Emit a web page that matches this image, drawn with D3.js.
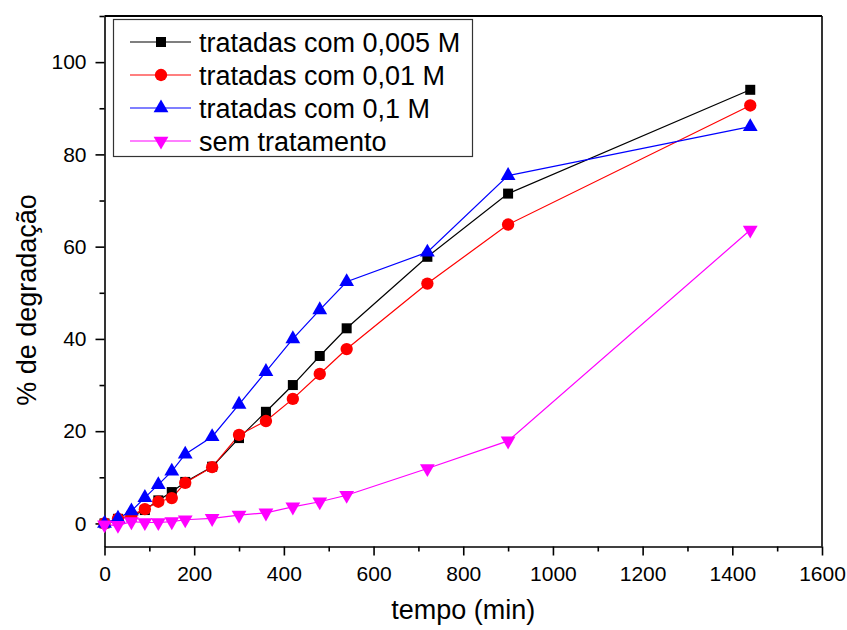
<!DOCTYPE html>
<html>
<head>
<meta charset="utf-8">
<script src="https://cdn.jsdelivr.net/npm/d3@7"></script>
<style>
  body { margin: 0; background: #fff; }
  svg { font-family: Arial, "Liberation Sans", sans-serif; }
</style>
</head>
<body>
<div id="chart"></div>
<script>
// degradation over time, one series per treatment
const tempo = [0, 30, 60, 90, 120, 150, 180, 240, 300, 360, 420, 480, 540, 720, 900, 1440];
const trat0005 = [0, 1.0, 1.5, 2.9, 5.0, 6.8, 9.0, 12.3, 18.5, 24.2, 30.0, 36.3, 42.3, 57.8, 71.5, 94.0];
const trat001 = [0, 1.0, 1.8, 3.1, 4.7, 5.5, 8.8, 12.2, 19.2, 22.2, 27.0, 32.4, 37.8, 52.0, 64.8, 90.6];
const trat01 = [0, 1.1, 2.7, 5.6, 8.4, 11.3, 15.0, 18.8, 25.8, 32.9, 40.0, 46.3, 52.4, 58.8, 75.4, 86.0];
const semTrat = [-0.3, -0.4, 0.4, 0.2, 0.2, 0.4, 0.8, 1.1, 1.8, 2.3, 3.6, 4.7, 6.1, 11.9, 17.9, 63.6];
const seriesNames = ["tratadas com 0,005 M", "tratadas com 0,01 M", "tratadas com 0,1 M", "sem tratamento"];
const xTicks = [0, 200, 400, 600, 800, 1000, 1200, 1400, 1600];
const yTicks = [0, 20, 40, 60, 80, 100];

const width = 847, height = 630;
const margin = {left: 104.5, right: 25, top: 16, bottom: 83.5};

const svg = d3.select("#chart").append("svg")
  .attr("width", width)
  .attr("height", height);

const x = d3.scaleLinear().domain([0, 1600]).range([margin.left, width - margin.right]);
const y = d3.scaleLinear().domain([-5, 110]).range([height - margin.bottom, margin.top]);

const series = [
  {name: seriesNames[0], values: trat0005, color: "#000000", symbol: d3.symbolSquare, size: 100, flip: false},
  {name: seriesNames[1], values: trat001, color: "#ff0000", symbol: d3.symbolCircle, size: 120, flip: false},
  {name: seriesNames[2], values: trat01, color: "#0000ff", symbol: d3.symbolTriangle, size: 95, flip: false},
  {name: seriesNames[3], values: semTrat, color: "#ff00ff", symbol: d3.symbolTriangle, size: 95, flip: true}
];

// axes: major ticks labelled, minor ticks in between
const xMinor = d3.range(100, 1600, 200);
const yMinor = d3.range(-10, 111, 20).filter(v => v > -5);
const fmt = d3.format("d");

svg.append("g")
  .attr("transform", `translate(0,${y(-5)})`)
  .call(d3.axisBottom(x).tickValues(xMinor).tickSize(5).tickFormat(""))
  .call(g => g.select(".domain").remove());
svg.append("g")
  .attr("transform", `translate(0,${y(-5)})`)
  .call(d3.axisBottom(x).tickValues(xTicks).tickFormat(fmt).tickSize(9).tickSizeOuter(0).tickPadding(11))
  .call(g => g.selectAll("text").attr("font-size", 21).attr("fill", "#000"))
  .call(g => g.selectAll("line, path").attr("stroke-width", 1.6));

svg.append("g")
  .attr("transform", `translate(${x(0)},0)`)
  .call(d3.axisLeft(y).tickValues(yMinor).tickSize(5).tickFormat(""))
  .call(g => g.select(".domain").remove());
svg.append("g")
  .attr("transform", `translate(${x(0)},0)`)
  .call(d3.axisLeft(y).tickValues(yTicks).tickFormat(fmt).tickSize(9).tickSizeOuter(0).tickPadding(9))
  .call(g => g.selectAll("text").attr("font-size", 21).attr("fill", "#000"))
  .call(g => g.selectAll("line, path").attr("stroke-width", 1.6));

svg.selectAll("g.tick line").attr("stroke-width", 1.6);

// top and right frame lines
svg.append("line")
  .attr("x1", x(0)).attr("x2", x(1600))
  .attr("y1", y(110)).attr("y2", y(110))
  .attr("stroke", "#000").attr("stroke-width", 2);
svg.append("line")
  .attr("x1", x(1600)).attr("x2", x(1600))
  .attr("y1", y(110)).attr("y2", y(-5))
  .attr("stroke", "#000").attr("stroke-width", 1.6);

// series lines and markers
const line = d3.line()
  .x((d, i) => x(tempo[i]))
  .y(d => y(d));

series.forEach(s => {
  svg.append("path")
    .datum(s.values)
    .attr("d", line)
    .attr("fill", "none")
    .attr("stroke", s.color)
    .attr("stroke-width", 1.2);
});

series.forEach(s => {
  const sym = d3.symbol().type(s.symbol).size(s.size);
  svg.append("g").selectAll("path")
    .data(s.values)
    .join("path")
    .attr("d", sym)
    .attr("transform", (d, i) => `translate(${x(tempo[i])},${y(d)})` + (s.flip ? " rotate(180)" : ""))
    .attr("fill", s.color);
});

// legend
const legend = svg.append("g");
legend.append("rect")
  .attr("x", 113.5).attr("y", 19.5)
  .attr("width", 359).attr("height", 137)
  .attr("fill", "#fff")
  .attr("stroke", "#333")
  .attr("stroke-width", 1.2);

series.forEach((s, i) => {
  const ly = 42 + i * 33;
  const row = legend.append("g");
  row.append("line")
    .attr("x1", 130).attr("x2", 191)
    .attr("y1", ly).attr("y2", ly)
    .attr("stroke", s.color)
    .attr("stroke-width", 1.2);
  row.append("path")
    .attr("d", d3.symbol().type(s.symbol).size(s.size)())
    .attr("transform", `translate(161,${ly})` + (s.flip ? " rotate(180)" : ""))
    .attr("fill", s.color);
  row.append("text")
    .attr("x", 199).attr("y", ly)
    .attr("dy", "0.36em")
    .attr("font-size", 27)
    .attr("fill", "#000")
    .text(s.name);
});

// axis titles
svg.append("text")
  .attr("x", (x(0) + x(1600)) / 2)
  .attr("y", 619)
  .attr("text-anchor", "middle")
  .attr("font-size", 27)
  .text("tempo (min)");

svg.append("text")
  .attr("transform", "translate(36,300) rotate(-90)")
  .attr("text-anchor", "middle")
  .attr("font-size", 27)
  .text("% de degradação");
</script>
</body>
</html>
